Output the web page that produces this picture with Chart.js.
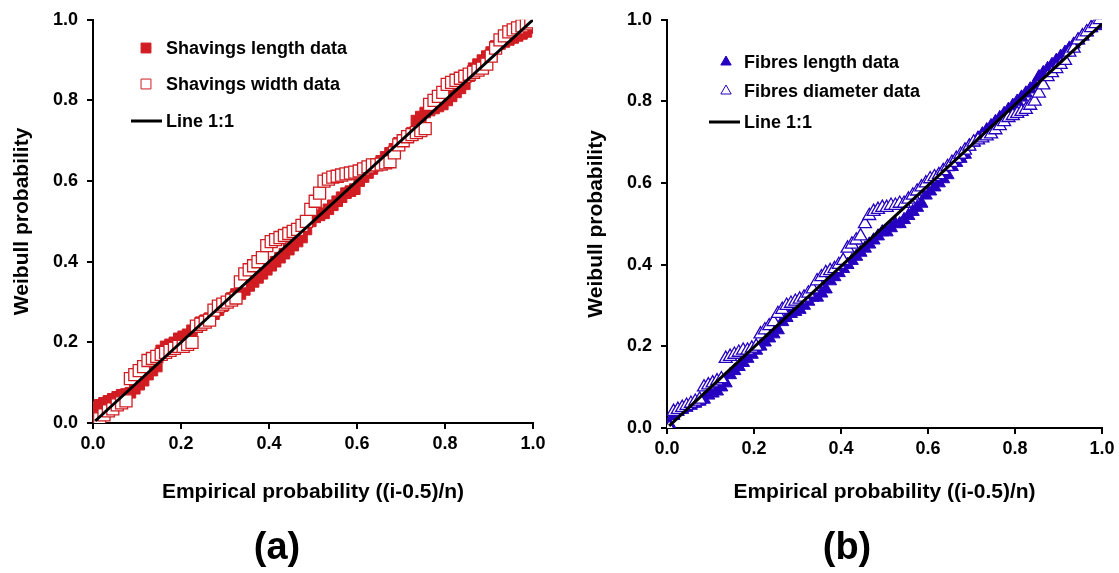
<!DOCTYPE html>
<html>
<head>
<meta charset="utf-8">
<script src="https://cdn.jsdelivr.net/npm/chart.js@4/dist/chart.umd.min.js"></script>
<style>
body { margin: 0; background: #fff; width: 1119px; height: 573px; overflow: hidden; position: relative; font-family: "Liberation Sans", Arial, sans-serif; }
.panel { position: absolute; top: 0; height: 573px; }
.tag { position: absolute; top: 524px; width: 100px; text-align: center; font-weight: bold; font-size: 38px; line-height: 44px; color: #000; }
</style>
</head>
<body>
<div class="panel" style="left:0;width:560px"><canvas id="chartA"></canvas></div>
<div class="panel" style="left:560px;width:559px"><canvas id="chartB"></canvas></div>
<div class="tag" style="left:227px">(a)</div>
<div class="tag" style="left:797px">(b)</div>
<script>
// empirical probability of each ranked sample
const empirical = [
  0.005, 0.015, 0.025, 0.035, 0.045, 0.055, 0.065, 0.075, 0.085, 0.095,
  0.105, 0.115, 0.125, 0.135, 0.145, 0.155, 0.165, 0.175, 0.185, 0.195,
  0.205, 0.215, 0.225, 0.235, 0.245, 0.255, 0.265, 0.275, 0.285, 0.295,
  0.305, 0.315, 0.325, 0.335, 0.345, 0.355, 0.365, 0.375, 0.385, 0.395,
  0.405, 0.415, 0.425, 0.435, 0.445, 0.455, 0.465, 0.475, 0.485, 0.495,
  0.505, 0.515, 0.525, 0.535, 0.545, 0.555, 0.565, 0.575, 0.585, 0.595,
  0.605, 0.615, 0.625, 0.635, 0.645, 0.655, 0.665, 0.675, 0.685, 0.695,
  0.705, 0.715, 0.725, 0.735, 0.745, 0.755, 0.765, 0.775, 0.785, 0.795,
  0.805, 0.815, 0.825, 0.835, 0.845, 0.855, 0.865, 0.875, 0.885, 0.895,
  0.905, 0.915, 0.925, 0.935, 0.945, 0.955, 0.965, 0.975, 0.985, 0.995
];

// (a) weibull probability
const shavingsLength = [
  0.04, 0.045, 0.05, 0.055, 0.06, 0.065, 0.07, 0.072, 0.075, 0.085,
  0.095, 0.105, 0.12, 0.13, 0.14, 0.18, 0.19, 0.195, 0.2, 0.21,
  0.215, 0.22, 0.23, 0.24, 0.25, 0.255, 0.26, 0.27, 0.28, 0.29,
  0.3, 0.31, 0.32, 0.32, 0.33, 0.34, 0.35, 0.36, 0.37, 0.38,
  0.39, 0.4, 0.41, 0.42, 0.43, 0.44, 0.45, 0.46, 0.48, 0.5,
  0.51, 0.515, 0.52, 0.53, 0.54, 0.55, 0.56, 0.57, 0.575, 0.58,
  0.6, 0.61, 0.62, 0.63, 0.64, 0.65, 0.66, 0.67, 0.68, 0.695,
  0.7, 0.71, 0.72, 0.75, 0.76, 0.77, 0.775, 0.78, 0.785, 0.79,
  0.8, 0.81, 0.82, 0.83, 0.84, 0.86, 0.88, 0.89, 0.9, 0.91,
  0.92, 0.935, 0.94, 0.945, 0.95, 0.955, 0.96, 0.965, 0.97, 0.98
];
const shavingsWidth = [
  0.005, 0.01, 0.02, 0.03, 0.035, 0.045, 0.05, 0.055, 0.11, 0.12,
  0.13, 0.14, 0.155, 0.16, 0.165, 0.17, 0.175, 0.18, 0.185, 0.19,
  0.19, 0.195, 0.2, 0.24, 0.245, 0.25, 0.255, 0.28, 0.29, 0.295,
  0.3, 0.305, 0.31, 0.35, 0.37, 0.38, 0.39, 0.4, 0.41, 0.44,
  0.45, 0.455, 0.46, 0.465, 0.47, 0.475, 0.48, 0.49, 0.5, 0.53,
  0.55, 0.57, 0.6, 0.605, 0.61, 0.612, 0.615, 0.618, 0.62, 0.622,
  0.625, 0.63, 0.635, 0.64, 0.64, 0.642, 0.645, 0.648, 0.67, 0.69,
  0.7, 0.71, 0.715, 0.72, 0.725, 0.73, 0.79, 0.8, 0.81, 0.82,
  0.84, 0.845, 0.85, 0.855, 0.86, 0.865, 0.87, 0.875, 0.88, 0.89,
  0.91, 0.93, 0.95, 0.96, 0.97, 0.975, 0.98, 0.985, 0.99, 0.995
];

// (b) weibull probability
const fibresLength = [
  0.01, 0.03, 0.04, 0.045, 0.05, 0.055, 0.06, 0.065, 0.07, 0.08,
  0.085, 0.09, 0.1, 0.11, 0.13, 0.14, 0.15, 0.16, 0.17, 0.18,
  0.19, 0.2, 0.21, 0.22, 0.23, 0.24, 0.26, 0.27, 0.28, 0.285,
  0.29, 0.3, 0.31, 0.32, 0.32, 0.33, 0.34, 0.36, 0.37, 0.38,
  0.39, 0.4, 0.41, 0.42, 0.43, 0.44, 0.45, 0.46, 0.47, 0.48,
  0.48, 0.49, 0.5, 0.5, 0.51, 0.52, 0.53, 0.54, 0.55, 0.57,
  0.58, 0.59, 0.6, 0.61, 0.62, 0.64, 0.65, 0.66, 0.67, 0.69,
  0.7, 0.71, 0.72, 0.73, 0.74, 0.75, 0.76, 0.77, 0.78, 0.79,
  0.8, 0.81, 0.82, 0.83, 0.84, 0.86, 0.87, 0.88, 0.89, 0.9,
  0.91, 0.92, 0.93, 0.94, 0.95, 0.96, 0.97, 0.98, 0.985, 0.99
];
const fibresDiameter = [
  0.0, 0.04, 0.045, 0.05, 0.055, 0.06, 0.065, 0.07, 0.1, 0.105,
  0.11, 0.115, 0.12, 0.17, 0.175, 0.18, 0.185, 0.19, 0.19, 0.195,
  0.2, 0.23, 0.24, 0.25, 0.26, 0.28, 0.29, 0.3, 0.305, 0.31,
  0.315, 0.32, 0.33, 0.34, 0.36, 0.37, 0.38, 0.385, 0.39, 0.4,
  0.41, 0.44, 0.45, 0.46, 0.47, 0.5, 0.52, 0.53, 0.535, 0.54,
  0.54, 0.545, 0.545, 0.55, 0.55, 0.56, 0.57, 0.58, 0.59, 0.6,
  0.61, 0.615, 0.62, 0.63, 0.64, 0.65, 0.66, 0.67, 0.68, 0.69,
  0.7, 0.705, 0.71, 0.715, 0.72, 0.73, 0.74, 0.75, 0.76, 0.765,
  0.77, 0.775, 0.78, 0.79, 0.8, 0.82, 0.84, 0.86, 0.87, 0.88,
  0.89, 0.9, 0.92, 0.93, 0.95, 0.96, 0.97, 0.98, 0.99, 1.0
];

// 1:1 reference lines (x, y)
const lineA = [[0.005, 0.005], [1.0, 1.0]];
const lineB = [[0.005, 0.005], [1.0, 0.99]];

const axisTicks = [0, 0.2, 0.4, 0.6, 0.8, 1.0];

const FONT = '"Liberation Sans", Arial, sans-serif';
const RED = '#d01c22';
const BLUE = '#2600c0';

function pairs(ys) {
  return ys.map((y, i) => ({ x: empirical[i], y: y }));
}

function linePts(l) {
  return l.map(p => ({ x: p[0], y: p[1] }));
}

// legend drawn inside the plot area, like the original
const innerLegend = {
  id: 'innerLegend',
  afterDraw(chart, args, opts) {
    const ctx = chart.ctx;
    ctx.save();
    ctx.font = 'bold 18px ' + FONT;
    ctx.textBaseline = 'middle';
    opts.items.forEach(it => {
      const ds = chart.data.datasets[it.ds];
      if (it.line) {
        ctx.strokeStyle = '#000';
        ctx.lineWidth = 3;
        ctx.beginPath();
        ctx.moveTo(it.x0, it.y);
        ctx.lineTo(it.x1, it.y);
        ctx.stroke();
      } else {
        ctx.fillStyle = ds.backgroundColor;
        ctx.strokeStyle = ds.borderColor;
        ctx.lineWidth = 1;
        Chart.helpers.drawPoint(ctx, { pointStyle: ds.pointStyle, radius: it.r, borderWidth: 1, rotation: 0 }, it.mx, it.y);
      }
      ctx.fillStyle = '#000';
      ctx.fillText(ds.label, opts.textX, it.y + 1);
    });
    ctx.restore();
  }
};

function makeScales(yWidth, xHeight, yTitlePad) {
  const tickFont = { family: FONT, size: 18, weight: 'bold' };
  const titleFont = { family: FONT, size: 21, weight: 'bold' };
  const base = () => ({
    type: 'linear',
    min: 0,
    max: 1,
    border: { color: '#000', width: 2 },
    grid: { drawOnChartArea: false, drawTicks: true, tickLength: 6, color: '#000', lineWidth: 2 },
    afterBuildTicks: s => { s.ticks = axisTicks.map(v => ({ value: v })); }
  });
  const x = base();
  x.ticks = { font: tickFont, color: '#000', padding: 4, maxRotation: 0, callback: v => v.toFixed(1) };
  x.title = { display: true, text: 'Empirical probability ((i-0.5)/n)', font: titleFont, color: '#000', padding: { top: 0, bottom: 68 } };
  x.afterFit = s => { s.height = xHeight; };
  const y = base();
  y.ticks = { font: tickFont, color: '#000', padding: 9, callback: v => v.toFixed(1) };
  y.title = { display: true, text: 'Weibull probability', font: titleFont, color: '#000', padding: { top: yTitlePad, bottom: 0 } };
  y.afterFit = s => { s.width = yWidth; };
  return { x: x, y: y };
}

function makeChart(id, cfg) {
  return new Chart(document.getElementById(id), {
    type: 'scatter',
    data: {
      datasets: [
        {
          type: 'line', label: 'Line 1:1', data: linePts(cfg.line),
          borderColor: '#000', borderWidth: 3, pointRadius: 0, fill: false, order: 0
        },
        {
          label: cfg.openLabel, data: pairs(cfg.open), pointStyle: cfg.style,
          pointRadius: cfg.openR, backgroundColor: '#fff', borderColor: cfg.color, borderWidth: 1.3, order: 1
        },
        {
          label: cfg.filledLabel, data: pairs(cfg.filled), pointStyle: cfg.style,
          pointRadius: cfg.filledR, backgroundColor: cfg.color, borderColor: cfg.color, borderWidth: 1, order: 2
        }
      ]
    },
    options: {
      responsive: true,
      maintainAspectRatio: false,
      animation: false,
      events: [],
      layout: { padding: { left: 0, right: cfg.padRight, top: 15, bottom: 0 } },
      scales: makeScales(cfg.yWidth, cfg.xHeight, cfg.yTitlePad),
      plugins: {
        legend: { display: false },
        tooltip: { enabled: false },
        innerLegend: cfg.legend
      }
    },
    plugins: [innerLegend]
  });
}

makeChart('chartA', {
  line: lineA, open: shavingsWidth, filled: shavingsLength,
  openLabel: 'Shavings width data', filledLabel: 'Shavings length data',
  style: 'rect', color: RED, openR: 8.5, filledR: 7.5,
  padRight: 27, yWidth: 93, xHeight: 150, yTitlePad: 10,
  legend: {
    textX: 166,
    items: [
      { ds: 2, mx: 146, y: 48, r: 7 },
      { ds: 1, mx: 146, y: 84, r: 7 },
      { ds: 0, line: true, x0: 131, x1: 162, y: 121 }
    ]
  }
});

makeChart('chartB', {
  line: lineB, open: fibresDiameter, filled: fibresLength,
  openLabel: 'Fibres diameter data', filledLabel: 'Fibres length data',
  style: 'triangle', color: BLUE, openR: 7.5, filledR: 7.5,
  padRight: 17, yWidth: 107, xHeight: 145, yTitlePad: 24,
  legend: {
    textX: 184,
    items: [
      { ds: 2, mx: 166, y: 62, r: 6 },
      { ds: 1, mx: 166, y: 91, r: 6 },
      { ds: 0, line: true, x0: 149, x1: 180, y: 122 }
    ]
  }
});
</script>
</body>
</html>
